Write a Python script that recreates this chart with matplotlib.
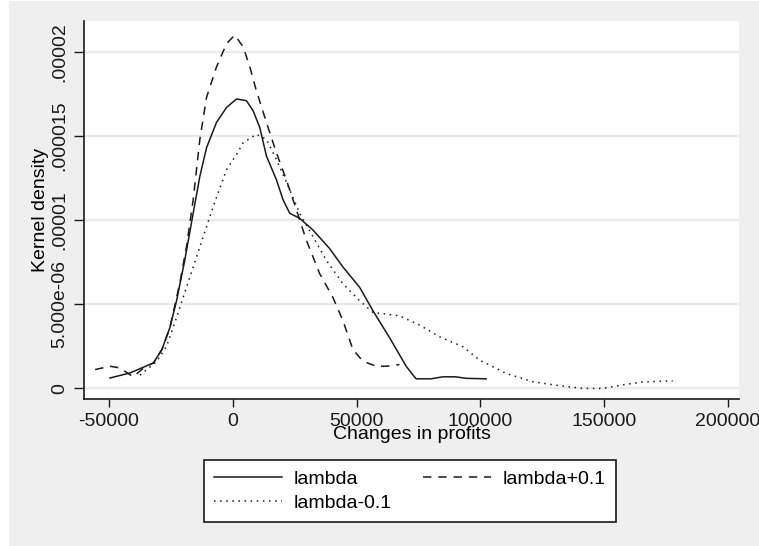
import matplotlib.pyplot as plt
from matplotlib.patches import Rectangle

plt.rcParams['font.family'] = ['Liberation Sans', 'DejaVu Sans']

# lambda (solid)
x_lam = [-49600, -41500, -32000, -28600, -25400, -22700, -19400, -16000, -13300, -10600,
         -6600, -2500, 1500, 5500, 8200, 10900, 13600, 17600, 20300, 23000,
         27000, 32400, 39100, 44500, 51200, 56600, 63300, 70000, 74000, 80000,
         84800, 90000, 94200, 102300]
y_lam = [0.6, 0.9, 1.5, 2.3, 3.6, 5.2, 7.6, 10.4, 12.6, 14.3,
         15.8, 16.7, 17.2, 17.1, 16.5, 15.5, 13.8, 12.4, 11.2, 10.4,
         10.1, 9.4, 8.3, 7.2, 6.0, 4.6, 3.0, 1.3, 0.55, 0.55,
         0.67, 0.67, 0.58, 0.55]

# lambda+0.1 (dashed)
x_plus = [-55600, -49600, -45600, -40200, -36000, -32000, -28600, -25400, -21400, -18700,
          -16000, -13300, -10600, -6600, -2500, 800, 4200, 6900, 9500, 13600,
          17600, 21600, 25700, 29700, 35100, 40400, 44500, 48500, 52500, 57900,
          62000, 67300]
y_plus = [1.1, 1.3, 1.2, 0.67, 1.2, 1.5, 2.3, 3.6, 6.25, 8.4,
          11.2, 14.8, 17.3, 19.1, 20.5, 21.0, 20.3, 19.1, 17.7, 15.8,
          14.0, 12.4, 10.6, 8.8, 6.8, 5.4, 4.0, 2.3, 1.6, 1.3,
          1.3, 1.4]

# lambda-0.1 (dotted)
x_minus = [-37500, -30800, -26700, -22700, -18700, -13300, -7900, -2500, 1500, 4200,
           9500, 13600, 17600, 23000, 27000, 32400, 37800, 44500, 51200, 56600,
           62000, 67300, 75400, 83500, 92900, 99600, 110400, 121100, 131900, 141300,
           149300, 158700, 165400, 177600]
y_minus = [0.77, 1.57, 2.5, 4.2, 6.0, 8.4, 10.8, 13.0, 13.9, 14.6,
           15.1, 14.8, 13.6, 11.8, 10.4, 9.0, 7.6, 6.2, 5.2, 4.5,
           4.4, 4.3, 3.75, 3.05, 2.46, 1.67, 0.87, 0.38, 0.14, -0.02,
           -0.02, 0.22, 0.36, 0.43]

xticks = [-50000, 0, 50000, 100000, 150000, 200000]
yticks = [0, 5e-6, 1e-5, 1.5e-5, 2e-5]
ytick_labels = ['0', '5.000e-06', '.00001', '.000015', '.00002']

fig = plt.figure(figsize=(7.59, 5.46), dpi=100)
fig.patch.set_facecolor('white')
fig.add_artist(Rectangle((9 / 759, 0), 1 - 9 / 759, 1 - 1 / 546, transform=fig.transFigure,
                         facecolor='#efefef', edgecolor='none', zorder=-10))

ax = fig.add_axes([84 / 759, 1 - 399 / 546, (739 - 84) / 759, (399 - 21) / 546])
ax.set_facecolor('white')

lw = 1.1
l1, = ax.plot(x_lam, [v * 1e-6 for v in y_lam], color='#1a1a1a', lw=lw, linestyle='-')
l2, = ax.plot(x_plus, [v * 1e-6 for v in y_plus], color='#1a1a1a', lw=lw, linestyle=(0, (5.5, 4.5)))
l3, = ax.plot(x_minus, [v * 1e-6 for v in y_minus], color='#1a1a1a', lw=lw, linestyle=(0, (1, 3)))

ax.set_xlim(-60080, 204400)
ax.set_ylim(-6.5e-7, 2.184e-5)

ax.set_xticks(xticks)
ax.set_xticklabels([str(t) for t in xticks], fontsize=14)
ax.set_yticks(yticks)
ax.set_yticklabels(ytick_labels, fontsize=14, rotation=90, va='center')

for t in yticks:
    ax.axhline(t, color='#eaeaea', lw=1.6, zorder=0)

for s in ['top', 'right']:
    ax.spines[s].set_visible(False)
for s in ['left', 'bottom']:
    ax.spines[s].set_color('#1a1a1a')
    ax.spines[s].set_linewidth(1.2)

ax.tick_params(axis='y', length=7, width=1, pad=4, colors='#1a1a1a')
ax.tick_params(axis='x', length=6, width=1, pad=4, colors='#1a1a1a')

ax.set_xlabel('Changes in profits', fontsize=14, labelpad=-3)
ax.set_ylabel('Kernel density', fontsize=14, labelpad=2)

leg = fig.legend([l1, l3, l2], ['lambda', 'lambda-0.1', 'lambda+0.1'], ncol=2,
                 loc='center', bbox_to_anchor=(410 / 759, 1 - 491 / 546),
                 fontsize=14, frameon=True, fancybox=False, edgecolor='#1a1a1a',
                 handlelength=3.5, handletextpad=0.6, columnspacing=1.6,
                 labelspacing=0.35, borderpad=0.5)
leg.get_frame().set_linewidth(1.2)
leg.get_frame().set_facecolor('white')
leg.get_frame().set_alpha(1)

fig.savefig('out.png', dpi=100, facecolor=fig.get_facecolor())
